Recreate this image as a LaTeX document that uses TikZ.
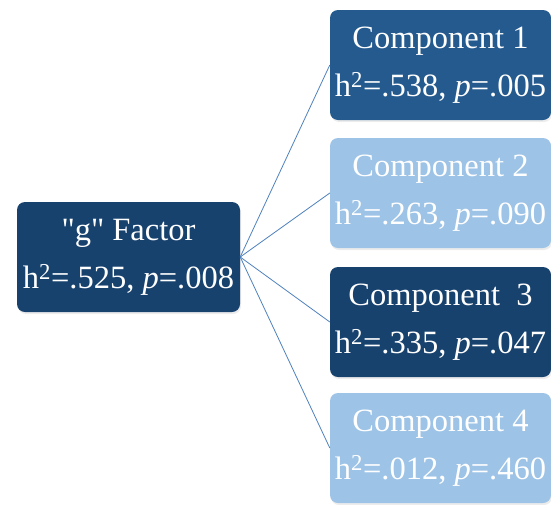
\documentclass[tikz,border=0pt]{standalone}
\usepackage{fontspec}
\setmainfont{Liberation Serif}
\usetikzlibrary{shadows}

\definecolor{navy}{RGB}{24,66,110}
\definecolor{midblue}{RGB}{36,90,142}
\definecolor{paleblue}{RGB}{157,195,230}
\definecolor{linkblue}{RGB}{79,129,189}

\tikzset{
	box/.style={draw=none, rounded corners=8pt, text=white, align=center,
		minimum width=221pt, minimum height=110pt, inner sep=0pt,
		font=\fontsize{32.5}{48}\selectfont,
		drop shadow={shadow xshift=1pt, shadow yshift=-2pt, opacity=0.15}},
	link/.style={draw=linkblue, line width=0.8pt}
}

\begin{document}
\begin{tikzpicture}[x=1pt, y=-1pt]
		%%%%% START %%%%%
		
		\useasboundingbox (0, 0) rectangle (551, 504);
		
		\node[box, fill=navy, minimum width=223pt] (gfactor) at (128.5, 257) {\textquotedbl g\textquotedbl{} Factor\\h\textsuperscript{2}=.525, \textit{p}=.008};
		
		\node[box, fill=midblue] (comp1) at (440.5, 65) {Component 1\\h\textsuperscript{2}=.538, \textit{p}=.005};
		\node[box, fill=paleblue] (comp2) at (440.5, 193) {Component 2\\h\textsuperscript{2}=.263, \textit{p}=.090};
		\node[box, fill=navy] (comp3) at (440.5, 322) {Component~~3\\h\textsuperscript{2}=.335, \textit{p}=.047};
		\node[box, fill=paleblue] (comp4) at (440.5, 448) {Component 4\\h\textsuperscript{2}=.012, \textit{p}=.460};
		
		\draw[link] (gfactor.east) -- (comp1.west);
		\draw[link] (gfactor.east) -- (comp2.west);
		\draw[link] (gfactor.east) -- (comp3.west);
		\draw[link] (gfactor.east) -- (comp4.west);
		
		%%%%% END %%%%%
\end{tikzpicture}
\end{document}
